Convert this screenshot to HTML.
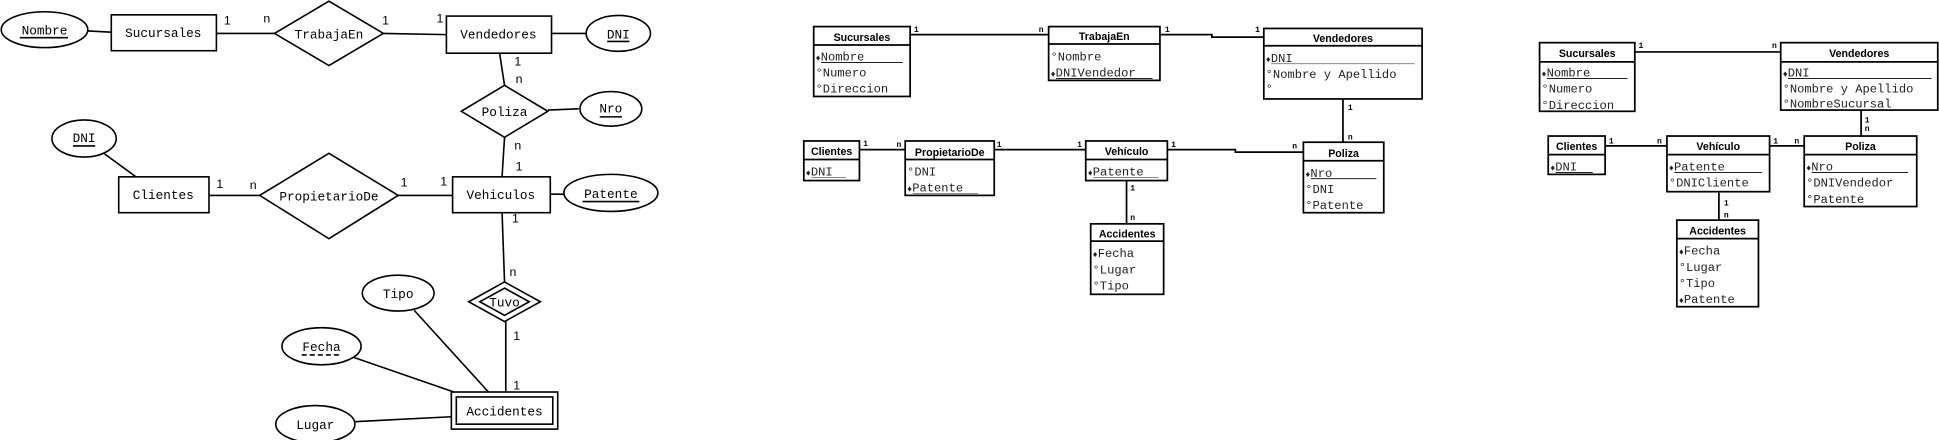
<!DOCTYPE html>
<html><head><meta charset="utf-8">
<style>
html,body{margin:0;padding:0;background:#fff;}
svg{display:block;}
.h{font-family:"Liberation Sans",sans-serif;font-weight:bold;font-size:8.6px;}
.r{font-family:"Liberation Mono",monospace;font-size:9.8px;fill:#222;}
.c{font-family:"Liberation Mono",monospace;font-size:6.5px;font-weight:bold;}
.L{font-family:"Liberation Mono",monospace;font-size:10.3px;}
.n{font-family:"Liberation Sans",sans-serif;font-size:10px;}
.k{font-size:7px;}
</style></head>
<body>
<svg width="1939" height="440" viewBox="0 0 1568 355.8" xmlns="http://www.w3.org/2000/svg">
<g fill="none" stroke="#000" stroke-width="1.3">
<ellipse cx="36" cy="24" rx="35" ry="14.5"/>
<line x1="71" y1="25" x2="90" y2="26"/>
<rect x="90" y="12" width="85" height="29"/>
<line x1="175" y1="27" x2="222" y2="27"/>
<polygon points="266,1 310,27 266,53 222,27"/>
<line x1="310" y1="27" x2="361" y2="28"/>
<rect x="361" y="13" width="85" height="30"/>
<line x1="446" y1="27" x2="474" y2="27"/>
<ellipse cx="500" cy="27" rx="26" ry="14.5"/>
<line x1="404" y1="43" x2="408" y2="69"/>
<polygon points="408,69 443,90 408,111 373,90"/>
<line x1="443" y1="89" x2="468" y2="88"/>
<ellipse cx="494" cy="88" rx="25" ry="14"/>
<line x1="408" y1="111" x2="406" y2="143"/>
<ellipse cx="68" cy="112" rx="26" ry="15"/>
<line x1="84" y1="124" x2="110" y2="143"/>
<rect x="96" y="143" width="73" height="29"/>
<line x1="169" y1="158" x2="210" y2="158"/>
<polygon points="266,124 322,158 266,193 210,158"/>
<line x1="322" y1="158" x2="366" y2="158"/>
<rect x="366" y="143" width="79" height="29"/>
<line x1="445" y1="157" x2="456" y2="157"/>
<ellipse cx="494" cy="156" rx="38" ry="15"/>
<line x1="406" y1="172" x2="408" y2="228"/>
<polygon points="408,228 437,244 408,260 379,244"/>
<polygon points="408,233 428,244 408,255 388,244"/>
<line x1="409" y1="260" x2="409" y2="317"/>
<rect x="365" y="317" width="86" height="30"/>
<rect x="369" y="321" width="78" height="22"/>
<ellipse cx="322" cy="237" rx="29" ry="14.5"/>
<line x1="335" y1="251" x2="395" y2="317"/>
<ellipse cx="260" cy="280" rx="32" ry="15"/>
<line x1="286" y1="289" x2="367" y2="317"/>
<ellipse cx="255" cy="343" rx="32" ry="15"/>
<line x1="287" y1="341" x2="365" y2="337"/>
</g>
<g class="L" text-anchor="middle">
<text x="36" y="28">Nombre</text>
<text x="132" y="30">Sucursales</text>
<text x="266" y="31">TrabajaEn</text>
<text x="403" y="31">Vendedores</text>
<text x="500" y="31">DNI</text>
<text x="408" y="94">Poliza</text>
<text x="494" y="91">Nro</text>
<text x="68" y="115">DNI</text>
<text x="132" y="161">Clientes</text>
<text x="266" y="162">PropietarioDe</text>
<text x="405" y="161">Vehiculos</text>
<text x="494" y="160">Patente</text>
<text x="408" y="248">Tuvo</text>
<text x="322" y="241">Tipo</text>
<text x="260" y="284">Fecha</text>
<text x="255" y="347">Lugar</text>
<text x="408" y="336">Accidentes</text>
</g>
<g stroke="#000" stroke-width="1.3">
<line x1="16" y1="30.5" x2="55" y2="30.5"/>
<line x1="491" y1="33.5" x2="509" y2="33.5"/>
<line x1="485" y1="94.5" x2="503" y2="94.5"/>
<line x1="59" y1="118" x2="77" y2="118"/>
<line x1="471" y1="163" x2="517" y2="163"/>
<line x1="244" y1="287" x2="276" y2="287" stroke-dasharray="4,2.5"/>
</g>
<g class="n">
<text x="181" y="20">1</text><text x="213" y="18">n</text>
<text x="309" y="20">1</text><text x="353" y="18">1</text>
<text x="416" y="53">1</text><text x="417" y="67">n</text>
<text x="416" y="121">n</text><text x="417" y="138">1</text>
<text x="175" y="152">1</text><text x="202" y="153">n</text>
<text x="324" y="151">1</text><text x="356" y="150">1</text>
<text x="414" y="180">1</text><text x="412" y="223">n</text>
<text x="415" y="275">1</text><text x="415" y="315">1</text>
</g>

<g fill="none" stroke="#000" stroke-width="1.4">
<rect x="658" y="21.5" width="78" height="56.5"/><line x1="658" y1="36.4" x2="736" y2="36.4"/>
<rect x="848" y="21.5" width="90" height="43.5"/><line x1="848" y1="35.6" x2="938" y2="35.6"/>
<rect x="1022" y="23" width="128" height="57"/><line x1="1022" y1="37" x2="1150" y2="37"/>
<rect x="650" y="114" width="45" height="32"/><line x1="650" y1="129" x2="695" y2="129"/>
<rect x="732" y="114" width="72" height="44"/><line x1="732" y1="129" x2="804" y2="129"/>
<rect x="878" y="114" width="66" height="32"/><line x1="878" y1="129" x2="944" y2="129"/>
<rect x="1054" y="115" width="65" height="57"/><line x1="1054" y1="130" x2="1119" y2="130"/>
<rect x="882" y="181" width="59" height="57"/><line x1="882" y1="195" x2="941" y2="195"/>
<polyline points="736,28 848,28"/>
<polyline points="938,28 980,28 980,30 1022,30"/>
<line x1="1086" y1="80" x2="1086" y2="115"/>
<line x1="695" y1="121" x2="732" y2="121"/>
<line x1="804" y1="121" x2="878" y2="121"/>
<polyline points="944,121 999,121 999,123 1054,123"/>
<line x1="911" y1="146" x2="911" y2="181"/>
</g>
<g class="h" text-anchor="middle">
<text x="697" y="33">Sucursales</text>
<text x="893" y="32.5">TrabajaEn</text>
<text x="1086" y="34">Vendedores</text>
<text x="672.5" y="125.5">Clientes</text>
<text x="768" y="126">PropietarioDe</text>
<text x="911" y="125.5">Vehículo</text>
<text x="1086.5" y="127">Poliza</text>
<text x="911.5" y="192">Accidentes</text>
</g>
<g class="r">
<text x="659.5" y="49"><tspan class="k">♦</tspan>Nombre</text>
<text x="659.5" y="62">°Numero</text>
<text x="659.5" y="75">°Direccion</text>
<text x="849.5" y="49">°Nombre</text>
<text x="849.5" y="62"><tspan class="k">♦</tspan>DNIVendedor</text>
<text x="1023.5" y="50"><tspan class="k">♦</tspan>DNI</text>
<text x="1023.5" y="63">°Nombre y Apellido</text>
<text x="1023.5" y="75">°</text>
<text x="651.5" y="142"><tspan class="k">♦</tspan>DNI</text>
<text x="733.5" y="142">°DNI</text>
<text x="733.5" y="155"><tspan class="k">♦</tspan>Patente</text>
<text x="879.5" y="142"><tspan class="k">♦</tspan>Patente</text>
<text x="1055.5" y="143"><tspan class="k">♦</tspan>Nro</text>
<text x="1055.5" y="156">°DNI</text>
<text x="1055.5" y="169">°Patente</text>
<text x="883.5" y="208"><tspan class="k">♦</tspan>Fecha</text>
<text x="883.5" y="221">°Lugar</text>
<text x="883.5" y="234">°Tipo</text>
</g>
<g stroke="#000" stroke-width="0.7">
<line x1="664" y1="50.5" x2="730" y2="50.5"/>
<line x1="854" y1="63.5" x2="932" y2="63.5"/>
<line x1="1028" y1="51.5" x2="1144" y2="51.5" stroke="#777"/>
<line x1="656" y1="143.5" x2="684" y2="143.5" stroke="#777"/>
<line x1="738" y1="156.5" x2="791" y2="156.5" stroke="#777"/>
<line x1="884" y1="143.5" x2="937" y2="143.5" stroke="#777"/>
<line x1="1060" y1="144.5" x2="1113" y2="144.5"/>
</g>
<g class="c">
<text x="739" y="26">1</text><text x="840" y="26">n</text>
<text x="942" y="26">1</text><text x="1015" y="26">1</text>
<text x="1090" y="89">1</text><text x="1090" y="113">n</text>
<text x="698" y="118">1</text><text x="725" y="119">n</text>
<text x="806" y="119">1</text><text x="871" y="119">1</text>
<text x="947" y="119">1</text><text x="1045" y="120">n</text>
<text x="914" y="154">1</text><text x="914" y="178">n</text>
</g>

<g fill="none" stroke="#000" stroke-width="1.4">
<rect x="1245" y="34.5" width="77" height="55.5"/><line x1="1245" y1="50" x2="1322" y2="50"/>
<rect x="1440" y="34.5" width="127" height="54.5"/><line x1="1440" y1="50" x2="1567" y2="50"/>
<rect x="1252" y="110" width="46" height="31"/><line x1="1252" y1="125" x2="1298" y2="125"/>
<rect x="1348" y="110" width="83" height="45"/><line x1="1348" y1="125" x2="1431" y2="125"/>
<rect x="1459" y="110" width="91" height="57"/><line x1="1459" y1="125" x2="1550" y2="125"/>
<rect x="1356" y="178" width="66" height="70"/><line x1="1356" y1="193" x2="1422" y2="193"/>
<line x1="1322" y1="42" x2="1440" y2="42"/>
<line x1="1505" y1="89" x2="1505" y2="110"/>
<line x1="1298" y1="118" x2="1348" y2="118"/>
<line x1="1431" y1="118" x2="1459" y2="118"/>
<line x1="1390" y1="155" x2="1390" y2="178"/>
</g>
<g class="h" text-anchor="middle">
<text x="1283.5" y="46">Sucursales</text>
<text x="1503.5" y="46">Vendedores</text>
<text x="1275" y="121.5">Clientes</text>
<text x="1389.5" y="121.5">Vehículo</text>
<text x="1504.5" y="121.5">Poliza</text>
<text x="1389" y="189.5">Accidentes</text>
</g>
<g class="r">
<text x="1246.5" y="62"><tspan class="k">♦</tspan>Nombre</text>
<text x="1246.5" y="75">°Numero</text>
<text x="1246.5" y="88">°Direccion</text>
<text x="1441.5" y="62"><tspan class="k">♦</tspan>DNI</text>
<text x="1441.5" y="75">°Nombre y Apellido</text>
<text x="1441.5" y="87">°NombreSucursal</text>
<text x="1253.5" y="138"><tspan class="k">♦</tspan>DNI</text>
<text x="1349.5" y="138"><tspan class="k">♦</tspan>Patente</text>
<text x="1349.5" y="151">°DNICliente</text>
<text x="1460.5" y="138"><tspan class="k">♦</tspan>Nro</text>
<text x="1460.5" y="151">°DNIVendedor</text>
<text x="1460.5" y="164">°Patente</text>
<text x="1357.5" y="206"><tspan class="k">♦</tspan>Fecha</text>
<text x="1357.5" y="219">°Lugar</text>
<text x="1357.5" y="232">°Tipo</text>
<text x="1357.5" y="245"><tspan class="k">♦</tspan>Patente</text>
</g>
<g stroke="#000" stroke-width="0.7">
<line x1="1251" y1="63.5" x2="1316" y2="63.5"/>
<line x1="1446" y1="63.5" x2="1562" y2="63.5"/>
<line x1="1258" y1="139.5" x2="1288" y2="139.5"/>
<line x1="1354" y1="139.5" x2="1425" y2="139.5"/>
<line x1="1465" y1="139.5" x2="1543" y2="139.5"/>
</g>
<g class="c">
<text x="1325" y="39">1</text><text x="1433" y="39">n</text>
<text x="1508" y="99">1</text><text x="1508" y="106">n</text>
<text x="1301" y="116">1</text><text x="1340" y="116">n</text>
<text x="1434" y="116">1</text><text x="1451" y="116">n</text>
<text x="1394" y="166">1</text><text x="1394" y="176">n</text>
</g>
</svg>
</body></html>
